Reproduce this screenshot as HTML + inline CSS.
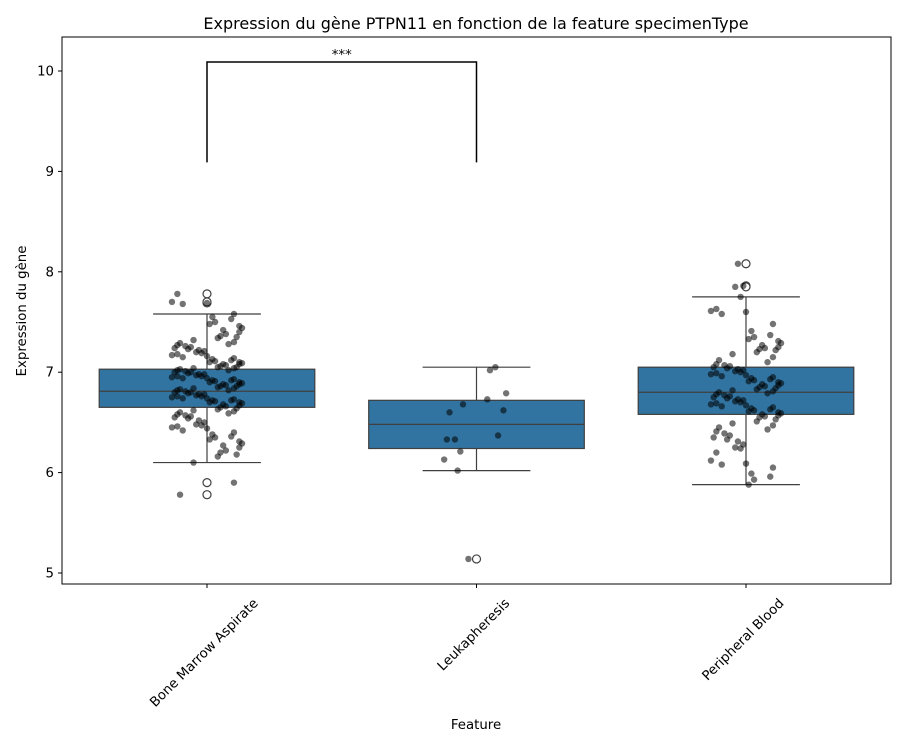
<!DOCTYPE html>
<html><head><meta charset="utf-8"><style>
body{margin:0;background:#fff;}
svg{display:block;font-family:"DejaVu Sans","Liberation Sans",sans-serif;}
</style></head><body>
<svg id="chart" width="906" height="746">
<rect x="0" y="0" width="906" height="746" fill="#fff"/>
<text x="476" y="29" font-size="16" text-anchor="middle">Expression du gène PTPN11 en fonction de la feature specimenType</text>
<g id="plot"></g>
<rect x="62" y="37" width="829" height="547" fill="none" stroke="#000" stroke-width="1"/>
<text x="476" y="729" font-size="13.3" text-anchor="middle">Feature</text>
<text transform="translate(26,311) rotate(-90)" font-size="13.3" text-anchor="middle">Expression du gène</text>
</svg>
<script>
const categories = ["Bone Marrow Aspirate","Leukapheresis","Peripheral Blood"];
const q1 = [6.65, 6.24, 6.58];
const medians = [6.81, 6.48, 6.80];
const q3 = [7.03, 6.72, 7.05];
const whiskLow = [6.10, 6.02, 5.88];
const whiskHigh = [7.58, 7.05, 7.75];
const outliers = [[7.78,7.69,7.70,5.90,5.78],[5.14],[8.08,7.86,7.85]];
const yTicks = [5,6,7,8,9,10];
const bmaPoints = [7.78,7.70,7.69,7.68,7.58,7.55,7.53,7.50,7.48,7.46,7.44,7.42,7.40,7.38,7.36,7.35,7.34,7.32,7.30,7.29,7.28,7.27,7.26,7.25,7.24,7.23,7.22,7.21,7.20,7.19,7.18,7.17,7.16,7.15,7.14,7.13,7.12,7.11,7.10,7.10,7.09,7.08,7.08,7.07,7.06,7.05,7.05,7.04,7.04,7.03,7.02,7.02,7.01,7.00,7.00,6.99,6.98,6.98,6.97,6.96,6.96,6.95,6.94,6.94,6.93,6.92,6.92,6.91,6.90,6.90,6.89,6.88,6.88,6.87,6.86,6.86,6.85,6.84,6.84,6.83,6.82,6.82,6.81,6.80,6.80,6.79,6.78,6.78,6.77,6.76,6.76,6.75,6.74,6.74,6.73,6.72,6.72,6.71,6.70,6.70,6.69,6.68,6.67,6.66,6.65,6.64,6.63,6.62,6.61,6.60,6.59,6.58,6.57,6.56,6.55,6.54,6.52,6.50,6.48,6.47,6.46,6.45,6.44,6.42,6.40,6.38,6.36,6.35,6.33,6.31,6.29,6.27,6.25,6.22,6.20,6.18,6.16,6.10,5.90,5.78];
const leukPoints = [7.05,7.02,6.79,6.73,6.68,6.62,6.60,6.37,6.33,6.33,6.21,6.13,6.02,5.14];
const pbPoints = [8.08,7.86,7.85,7.75,7.63,7.61,7.60,7.58,7.48,7.41,7.37,7.35,7.33,7.31,7.29,7.27,7.25,7.24,7.23,7.22,7.20,7.18,7.15,7.12,7.10,7.08,7.07,7.06,7.05,7.04,7.03,7.02,7.01,7.00,6.99,6.98,6.97,6.96,6.95,6.94,6.93,6.92,6.91,6.90,6.89,6.88,6.87,6.86,6.85,6.84,6.83,6.82,6.81,6.80,6.79,6.78,6.77,6.76,6.75,6.74,6.73,6.72,6.71,6.70,6.69,6.68,6.67,6.66,6.65,6.64,6.63,6.62,6.61,6.60,6.59,6.58,6.57,6.56,6.55,6.53,6.51,6.49,6.47,6.45,6.43,6.41,6.39,6.37,6.35,6.33,6.31,6.28,6.25,6.24,6.20,6.12,6.09,6.08,6.05,5.99,5.96,5.93,5.88];
const jitter = [-0.11,0.07,-0.03,0.12,-0.08,0.02,0.10,-0.13,0.05,-0.01,0.13,-0.06,0.09,-0.10,0.00,0.11,-0.04,0.06,-0.12,0.03,0.08,-0.09,0.04,-0.02,0.12,-0.07,0.01,-0.11,0.10,-0.05];
const pointSets = [bmaPoints, leukPoints, pbPoints];
const bracketY = [10.09, 9.09];

const X0=62, X1=891, Y0=37, Y1=584;
const NS="http://www.w3.org/2000/svg";
function yScale(v){ return 573 - (v-5)*100.4; }
const step=(746-207)/2;
function xc(i){ return 207 + i*step; }
const boxW = 0.8*step;
const plot=document.getElementById('plot');
const svg=document.getElementById('chart');
function mk(tag,attrs,parent){ const e=document.createElementNS(NS,tag); for(const k in attrs) e.setAttribute(k,attrs[k]); (parent||plot).appendChild(e); return e; }

yTicks.forEach(t=>{
  const y=yScale(t);
  const l=mk('line',{x1:X0-4,x2:X0,y1:y,y2:y,stroke:'#000'},svg);
  
  
  const tx=mk('text',{x:X0-8,y:y+4.5,'font-size':13.3,'text-anchor':'end'},svg);
  tx.textContent=t;
  
  
});

categories.forEach((c,i)=>{
  const x=xc(i), g=mk('g',{});
  
  
  mk('line',{x1:x,x2:x,y1:yScale(whiskLow[i]),y2:yScale(q1[i]),stroke:'#3f3f3f','stroke-width':1.2},g);
  mk('line',{x1:x,x2:x,y1:yScale(q3[i]),y2:yScale(whiskHigh[i]),stroke:'#3f3f3f','stroke-width':1.2},g);
  mk('line',{x1:x-boxW/4,x2:x+boxW/4,y1:yScale(whiskLow[i]),y2:yScale(whiskLow[i]),stroke:'#3f3f3f','stroke-width':1.2},g);
  mk('line',{x1:x-boxW/4,x2:x+boxW/4,y1:yScale(whiskHigh[i]),y2:yScale(whiskHigh[i]),stroke:'#3f3f3f','stroke-width':1.2},g);
  mk('rect',{x:x-boxW/2,y:yScale(q3[i]),width:boxW,height:yScale(q1[i])-yScale(q3[i]),fill:'#3274a1',stroke:'#3f3f3f','stroke-width':1.2},g);
  mk('line',{x1:x-boxW/2,x2:x+boxW/2,y1:yScale(medians[i]),y2:yScale(medians[i]),stroke:'#3f3f3f','stroke-width':1.2},g);
  outliers[i].forEach(v=>{
    const o=mk('circle',{cx:x,cy:yScale(v),r:4,fill:'#fff',stroke:'#3f3f3f','stroke-width':1.2},g);
    
    
  });
  const pg=mk('g',{});
  
  
  pointSets[i].forEach((v,k)=>{
    const p=mk('circle',{cx:x+jitter[(k*7+i)%jitter.length]*step,cy:yScale(v),r:3.2,fill:'#000','fill-opacity':0.55},pg);
    
    
  });
  const tl=mk('line',{x1:x,x2:x,y1:Y1,y2:Y1+4,stroke:'#000'},svg);
  
  
  const t=mk('text',{'font-size':13.3,'text-anchor':'middle'},svg);
  t.textContent=c;
  const w=t.getComputedTextLength();
  const cx=x, cy=600+w/2*0.707;
  t.setAttribute('transform','translate('+cx+','+(cy+4)+') rotate(-45)');
  
  
});

const b=mk('path',{d:'M'+xc(0)+','+yScale(bracketY[1])+' L'+xc(0)+','+yScale(bracketY[0])+' L'+xc(1)+','+yScale(bracketY[0])+' L'+xc(1)+','+yScale(bracketY[1]),fill:'none',stroke:'#000','stroke-width':1.5});


const st=mk('text',{x:(xc(0)+xc(1))/2,y:yScale(bracketY[0])-3,'font-size':13.3,'text-anchor':'middle'});
st.textContent='***';


</script>
</body></html>
